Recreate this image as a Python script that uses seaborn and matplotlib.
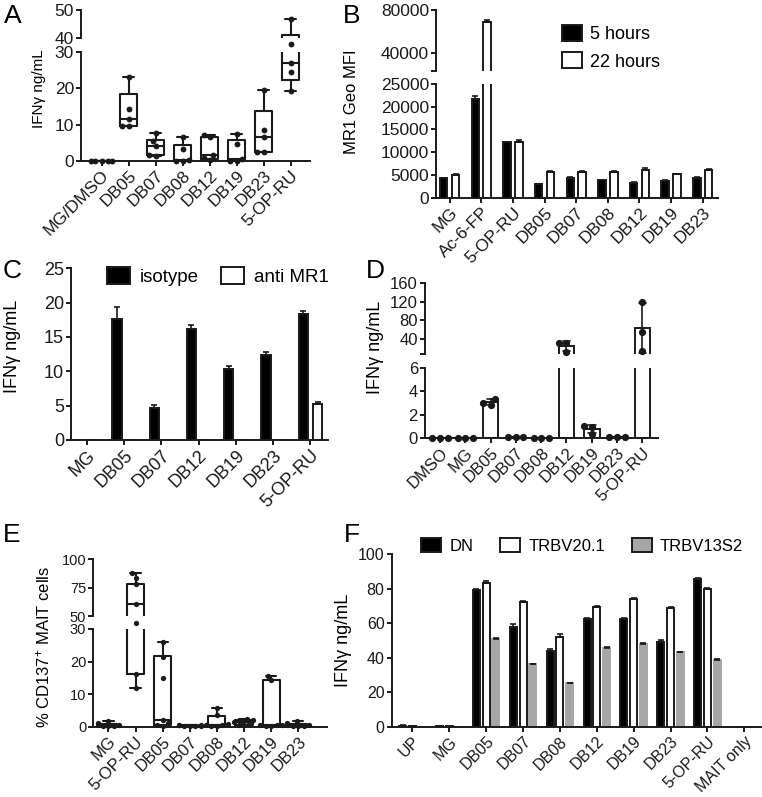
import numpy as np
import pandas as pd
import matplotlib
matplotlib.use("Agg")
import matplotlib.pyplot as plt
import matplotlib.patches as mpatches
import seaborn as sns

# ---------------- Panel A data ----------------
a_cats = ["MG/DMSO", "DB05", "DB07", "DB08", "DB12", "DB19", "DB23", "5-OP-RU"]
a_dots = [
    [0, 0, 0, 0, 0],
    [9.6, 9.6, 11.6, 14.4, 23.0],
    [1.5, 1.7, 4.2, 5.6, 7.8],
    [0.0, 0.1, 0.2, 3.2, 6.5],
    [0.4, 0.8, 1.7, 6.5, 7.2],
    [0.0, 0.1, 0.5, 4.7, 7.3],
    [2.5, 2.5, 6.6, 8.5, 19.4],
    [19.2, 24.5, 26.9, 32.0, 46.7],
]
a_q1 = [0, 9.6, 1.6, 0.0, 0.6, 0.05, 2.5, 22.1]
a_med = [0, 11.6, 4.2, 0.2, 1.7, 0.5, 6.6, 26.9]
a_q3 = [0, 18.5, 5.9, 4.5, 6.7, 5.8, 13.6, 41.0]
a_lo = [0, 9.6, 1.5, 0.0, 0.4, 0.0, 2.5, 19.2]
a_hi = [0, 23.0, 7.8, 6.5, 7.2, 7.3, 19.4, 46.7]

# ---------------- Panel B data ----------------
b_cats = ["MG", "Ac-6-FP", "5-OP-RU", "DB05", "DB07", "DB08", "DB12", "DB19", "DB23"]
b_series = ["5 hours", "22 hours"]
b_5h = [4260, 21700, 12200, 3000, 4400, 3900, 3300, 3750, 4400]
b_5h_err = [100, 600, 150, 80, 150, 100, 100, 100, 100]
b_22h = [5000, 68500, 12200, 5600, 5700, 5600, 6100, 5150, 6000]
b_22h_err = [150, 2500, 400, 200, 200, 300, 400, 150, 250]

# ---------------- Panel C data ----------------
c_cats = ["MG", "DB05", "DB07", "DB12", "DB19", "DB23", "5-OP-RU"]
c_series = ["isotype", "anti MR1"]
c_iso = [0, 17.6, 4.7, 16.15, 10.4, 12.3, 18.4]
c_iso_err = [0, 1.8, 0.4, 0.65, 0.4, 0.5, 0.35]
c_anti = [0, 0, 0, 0, 0, 0, 5.25]
c_anti_err = [0, 0, 0, 0, 0, 0, 0.25]

# ---------------- Panel D data ----------------
d_cats = ["DMSO", "MG", "DB05", "DB07", "DB08", "DB12", "DB19", "DB23", "5-OP-RU"]
d_dots = [
    [0, 0, 0],
    [0, 0, 0],
    [2.85, 3.0, 3.35],
    [0.1, 0.15, 0.12],
    [0, 0, 0],
    [14.0, 31.5, 32.8],
    [0.37, 1.0, 1.02],
    [0.1, 0.12, 0.15],
    [15.0, 56.0, 120.0],
]

# ---------------- Panel E data ----------------
e_cats = ["MG", "5-OP-RU", "DB05", "DB07", "DB08", "DB12", "DB19", "DB23"]
e_dots = [
    [0.1, 0.2, 0.3, 0.4, 0.6, 1.0, 1.8],
    [11.8, 16.2, 44.0, 60.8, 78.0, 83.8, 87.6],
    [0.3, 0.6, 1.0, 2.2, 15.0, 21.5, 26.0],
    [0.1, 0.2, 0.3, 0.3, 0.4, 0.5, 0.6],
    [0.2, 0.3, 0.5, 0.6, 0.8, 3.5, 5.6],
    [0.4, 0.6, 0.9, 1.4, 1.9, 2.1, 2.4],
    [0.2, 0.3, 0.4, 0.5, 0.6, 14.2, 15.6],
    [0.1, 0.2, 0.3, 0.4, 0.6, 1.2, 1.7],
]
e_q1 = [0.2, 16.3, 0.5, 0.2, 0.3, 0.6, 0.3, 0.2]
e_med = [0.4, 60.8, 2.2, 0.3, 0.6, 1.4, 0.5, 0.4]
e_q3 = [0.8, 78.0, 21.8, 0.5, 3.3, 2.1, 14.2, 0.9]
e_lo = [0.1, 11.8, 0.3, 0.1, 0.2, 0.4, 0.2, 0.1]
e_hi = [1.8, 87.6, 26.0, 0.6, 5.6, 2.4, 15.6, 1.7]

# ---------------- Panel F data ----------------
f_cats = ["UP", "MG", "DB05", "DB07", "DB08", "DB12", "DB19", "DB23", "5-OP-RU", "MAIT only"]
f_series = ["DN", "TRBV20.1", "TRBV13S2"]
f_dn = [0.6, 0.4, 79.3, 58.0, 43.9, 62.5, 62.5, 49.3, 85.7, 0]
f_dn_err = [0.3, 0.2, 0.6, 1.3, 1.3, 0.5, 0.5, 1.0, 0.5, 0]
f_tr20 = [0.2, 0.2, 83.5, 72.5, 52.2, 69.3, 74.1, 68.8, 79.7, 0]
f_tr20_err = [0, 0, 1.1, 0.6, 1.3, 0.6, 0.6, 0.6, 0.5, 0]
f_tr13 = [0, 0, 50.7, 36.2, 25.2, 45.8, 48.0, 43.2, 38.7, 0]
f_tr13_err = [0, 0, 0.5, 0.4, 0.4, 0.4, 0.5, 0.4, 0.4, 0]

GRAY = "#a6a6a6"

# ---------------- setup ----------------
sns.set_theme(style="ticks")
plt.rcParams["font.family"] = ["Liberation Sans", "DejaVu Sans"]
plt.rcParams["mathtext.fontset"] = "custom"
plt.rcParams["mathtext.rm"] = "Liberation Sans"
plt.rcParams["mathtext.it"] = "Liberation Sans:italic"
plt.rcParams["text.color"] = "black"

W, H = 762, 797
fig = plt.figure(figsize=(W / 100, H / 100), dpi=100)
fig.patch.set_facecolor("white")
LW = 1.4


def add_ax(l, t, r, b):
    return fig.add_axes([l / W, 1 - b / H, (r - l) / W, (b - t) / H])


def style(ax, fs, bottom=True):
    sns.despine(ax=ax)
    ax.set_facecolor("none")
    ax.tick_params(axis="both", direction="out", length=3.6, width=LW, color="k",
                   labelsize=fs, pad=1.5, labelcolor="k")
    for s in ["left", "bottom"]:
        ax.spines[s].set_color("k")
        ax.spines[s].set_linewidth(LW)
    ax.set_xlabel("")
    ax.set_ylabel("")
    if not bottom:
        ax.spines["bottom"].set_visible(False)
        ax.tick_params(axis="x", bottom=False, labelbottom=False)


def xlabels(ax, cats, fs):
    ax.set_xticks(range(len(cats)))
    ax.set_xticklabels(cats, rotation=45, ha="right", rotation_mode="anchor", fontsize=fs)


def boxes(ax, q1, med, q3, lo, hi, width, capw):
    stats = [dict(q1=a, med=b, q3=c, whislo=d, whishi=e) for a, b, c, d, e in zip(q1, med, q3, lo, hi)]
    pr = dict(color="k", lw=1.5)
    ax.bxp(stats, positions=np.arange(len(stats)), widths=width, capwidths=capw,
           showfliers=False, manage_ticks=False, boxprops=pr, whiskerprops=pr,
           capprops=pr, medianprops=pr)


def dots(ax, cats, pts, keep, size):
    rows = [(c, v) for c, vs in zip(cats, pts) for v in vs if keep(v)]
    df = pd.DataFrame(rows, columns=["cat", "val"])
    sns.swarmplot(data=df, x="cat", y="val", order=cats, color="k", size=size,
                  ax=ax, zorder=4, warn_thresh=1)
    for coll in ax.collections:
        coll.set_clip_on(False)


def grouped_bars(ax, cats, names, values, errs, colors, width, gap):
    rows = [(c, n, v) for n, vals in zip(names, values) for c, v in zip(cats, vals)]
    df = pd.DataFrame(rows, columns=["cat", "series", "val"])
    sns.barplot(data=df, x="cat", y="val", hue="series", order=cats, hue_order=names,
                palette=dict(zip(names, colors)), edgecolor="k", linewidth=LW,
                width=width, gap=gap, errorbar=None, saturation=1, legend=False, ax=ax)
    conts = list(ax.containers)
    for cont, err in zip(conts, errs):
        for bar, e in zip(cont, err):
            if e > 0:
                x = bar.get_x() + bar.get_width() / 2
                ax.errorbar(x, bar.get_height(), yerr=[[0], [e]], fmt="none", ecolor="k",
                            elinewidth=1.2, capsize=2.2, capthick=1.2, zorder=3)


def legend(names, colors, x, y, fs, ncol, hl, hh, tp, ls, cs):
    handles = [mpatches.Patch(facecolor=c, edgecolor="k", linewidth=LW) for c in colors]
    fig.legend(handles, names, loc="upper left", bbox_to_anchor=(x / W, 1 - y / H),
               frameon=False, fontsize=fs, ncol=ncol, handlelength=hl, handleheight=hh,
               handletextpad=tp, labelspacing=ls, columnspacing=cs, borderpad=0,
               borderaxespad=0)


def ftext(x, y, s, fs, rot=0):
    fig.text(x / W, 1 - y / H, s, fontsize=fs, rotation=rot, ha="center", va="center")


# ================= Panel A =================
a_lo_ax = add_ax(81, 51.7, 310, 161)
a_hi_ax = add_ax(81, 10, 310, 37.7)
for ax, keep in [(a_lo_ax, lambda v: v < 35), (a_hi_ax, lambda v: v >= 35)]:
    boxes(ax, a_q1, a_med, a_q3, a_lo, a_hi, 0.6, 0.44)
    dots(ax, a_cats, a_dots, keep, 4.2)
    ax.set_xlim(-0.76, 7.72)
a_lo_ax.set_ylim(0, 30)
a_lo_ax.set_yticks([0, 10, 20, 30])
a_hi_ax.set_ylim(40, 50)
a_hi_ax.set_yticks([40, 50])
style(a_lo_ax, 12.5)
style(a_hi_ax, 12.5, bottom=False)
xlabels(a_lo_ax, a_cats, 12.5)
ftext(39, 89, "IFNγ ng/mL", 11, 90)
ftext(12.5, 16, "A", 19)

# ================= Panel B =================
b_lo_ax = add_ax(436, 84, 718.3, 197.7)
b_hi_ax = add_ax(436, 10, 718.3, 70.7)
for ax in (b_lo_ax, b_hi_ax):
    grouped_bars(ax, b_cats, b_series, [b_5h, b_22h], [b_5h_err, b_22h_err],
                 ["black", "white"], 0.75, 0.37)
    ax.set_xlim(-0.43, 8.49)
b_lo_ax.set_ylim(0, 25000)
b_lo_ax.set_yticks([0, 5000, 10000, 15000, 20000, 25000])
b_hi_ax.set_ylim(24000, 80000)
b_hi_ax.set_yticks([24000, 40000, 80000])
b_hi_ax.set_yticklabels(["", "40000", "80000"])
style(b_lo_ax, 12.5)
style(b_hi_ax, 12.5, bottom=False)
xlabels(b_lo_ax, b_cats, 12.5)
ftext(352, 102, "MR1 Geo MFI", 12, 90)
ftext(352, 16, "B", 19)
legend(b_series, ["black", "white"], 562, 25, 13, 1, 1.1, 1.0, 0.45, 0.5, 1.0)

# ================= Panel C =================
c_ax = add_ax(71, 268.25, 328, 440)
grouped_bars(c_ax, c_cats, c_series, [c_iso, c_anti], [c_iso_err, c_anti_err],
             ["black", "white"], 0.76, 0.34)
c_ax.set_xlim(-0.42, 6.47)
c_ax.set_ylim(0, 25)
c_ax.set_yticks([0, 5, 10, 15, 20, 25])
style(c_ax, 13)
xlabels(c_ax, c_cats, 13)
ftext(12.5, 346, "IFNγ ng/mL", 13, 90)
ftext(12, 271, "C", 19)
legend(c_series, ["black", "white"], 107, 267, 13.5, 2, 1.2, 1.0, 0.55, 0.5, 1.2)

# ================= Panel D =================
d_lo_ax = add_ax(425, 367.7, 658.3, 438.3)
d_hi_ax = add_ax(425, 282.7, 658.3, 353.5)
d_rows = [(c, v) for c, vs in zip(d_cats, d_dots) for v in vs]
d_df = pd.DataFrame(d_rows, columns=["cat", "val"])
for ax, keep in [(d_lo_ax, lambda v: v < 8), (d_hi_ax, lambda v: v >= 8)]:
    sns.barplot(data=d_df, x="cat", y="val", order=d_cats, errorbar="sd", capsize=0.3,
                err_kws={"color": "k", "linewidth": 1.2}, color="white", edgecolor="k",
                linewidth=LW, width=0.62, saturation=1, ax=ax)
    dots(ax, d_cats, d_dots, keep, 5.2)
    ax.set_xlim(-0.59, 8.63)
d_lo_ax.set_ylim(0, 6)
d_lo_ax.set_yticks([0, 2, 4, 6])
d_hi_ax.set_ylim(10, 160)
d_hi_ax.set_yticks([10, 40, 80, 120, 160])
d_hi_ax.set_yticklabels(["", "40", "80", "120", "160"])
style(d_lo_ax, 12)
style(d_hi_ax, 12, bottom=False)
xlabels(d_lo_ax, d_cats, 12)
ftext(375, 347, "IFNγ ng/mL", 13, 90)
ftext(375, 271, "D", 19)

# ================= Panel E =================
e_lo_ax = add_ax(93.3, 629, 326.7, 726.7)
e_hi_ax = add_ax(93.3, 559.3, 326.7, 616)
for ax, keep in [(e_lo_ax, lambda v: v < 35), (e_hi_ax, lambda v: v >= 35)]:
    boxes(ax, e_q1, e_med, e_q3, e_lo, e_hi, 0.63, 0.38)
    dots(ax, e_cats, e_dots, keep, 3.8)
    ax.set_xlim(-0.56, 8.05)
e_lo_ax.set_ylim(0, 30)
e_lo_ax.set_yticks([0, 10, 20, 30])
e_hi_ax.set_ylim(50, 100)
e_hi_ax.set_yticks([50, 75, 100])
style(e_lo_ax, 10.5)
style(e_hi_ax, 10.5, bottom=False)
xlabels(e_lo_ax, e_cats, 12)
ftext(43, 647, "% CD137$^{+}$ MAIT cells", 12, 90)
ftext(12, 535, "E", 19)

# ================= Panel F =================
f_ax = add_ax(391.7, 554.3, 761.7, 726.7)
grouped_bars(f_ax, f_cats, f_series, [f_dn, f_tr20, f_tr13],
             [f_dn_err, f_tr20_err, f_tr13_err], ["black", "white", GRAY], 0.795, 0.28)
for bar in f_ax.containers[2]:
    bar.set_edgecolor(GRAY)
f_ax.set_xlim(-0.56, 9.47)
f_ax.set_ylim(0, 100)
f_ax.set_yticks([0, 20, 40, 60, 80, 100])
style(f_ax, 11.5)
xlabels(f_ax, f_cats, 11.5)
ftext(343, 640, "IFNγ ng/mL", 13, 90)
ftext(352, 535, "F", 19)
legend(f_series, ["black", "white", GRAY], 421, 538, 12, 3, 1.2, 0.9, 0.5, 0.5, 1.6)

fig.savefig("out.png", dpi=100, facecolor="white")
